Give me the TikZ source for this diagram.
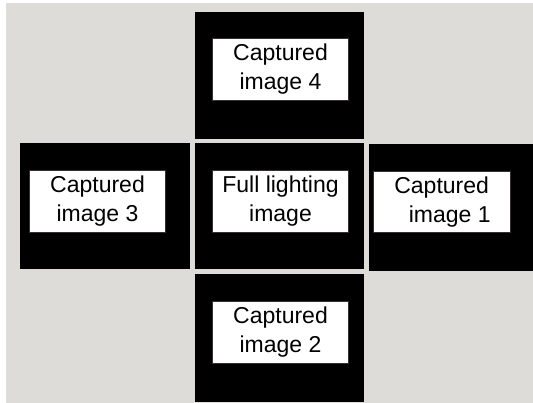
\documentclass[tikz,border=0pt]{standalone}
\usepackage{fontspec}
\setmainfont{Liberation Sans}
\definecolor{bggray}{HTML}{DDDCD8}
\definecolor{edgecol}{HTML}{3A2E2E}
\begin{document}
\begin{tikzpicture}[x=1pt,y=-1pt,
  panel/.style={fill=black,draw=none,inner sep=0pt,outer sep=0pt,anchor=north west},
  label/.style={fill=white,draw=edgecol,line width=0.8pt,inner sep=0pt,outer sep=0pt,anchor=north west,
    align=center,font=\fontsize{23}{29}\selectfont}]
\useasboundingbox (0,0) rectangle (533,403);
\fill[white] (0,0) rectangle (533,403);
\fill[bggray] (6,3) rectangle (533,403);
% black panels
\node[panel,minimum width=169.3pt,minimum height=126.7pt] (ptop) at (195,12) {};
\node[panel,minimum width=169.3pt,minimum height=126.6pt] (pcen) at (195,142.7) {};
\node[panel,minimum width=169.7pt,minimum height=126.6pt] (pleft) at (20.3,142.7) {};
\node[panel,minimum width=163.7pt,minimum height=126.7pt] (pright) at (369.3,144.3) {};
\node[panel,minimum width=169.3pt,minimum height=127.4pt] (pbot) at (195,274.3) {};
% white labels
\node[label,minimum width=136.4pt,minimum height=61.7pt] (ltop) at (212.3,38.3) {Captured\\image 4};
\node[label,minimum width=136.4pt,minimum height=62pt] (lcen) at (212.3,170.3) {Full lighting\\image};
\node[label,minimum width=136.4pt,minimum height=61.3pt] (lleft) at (29.3,170.7) {Captured\\image 3};
\node[label,minimum width=136.7pt,minimum height=61pt] (lright) at (373.3,171.7) {Captured\\\hspace*{0.7em}image 1};
\node[label,minimum width=136.4pt,minimum height=62.3pt] (lbot) at (212.3,301) {Captured\\image 2};
\end{tikzpicture}
\end{document}
